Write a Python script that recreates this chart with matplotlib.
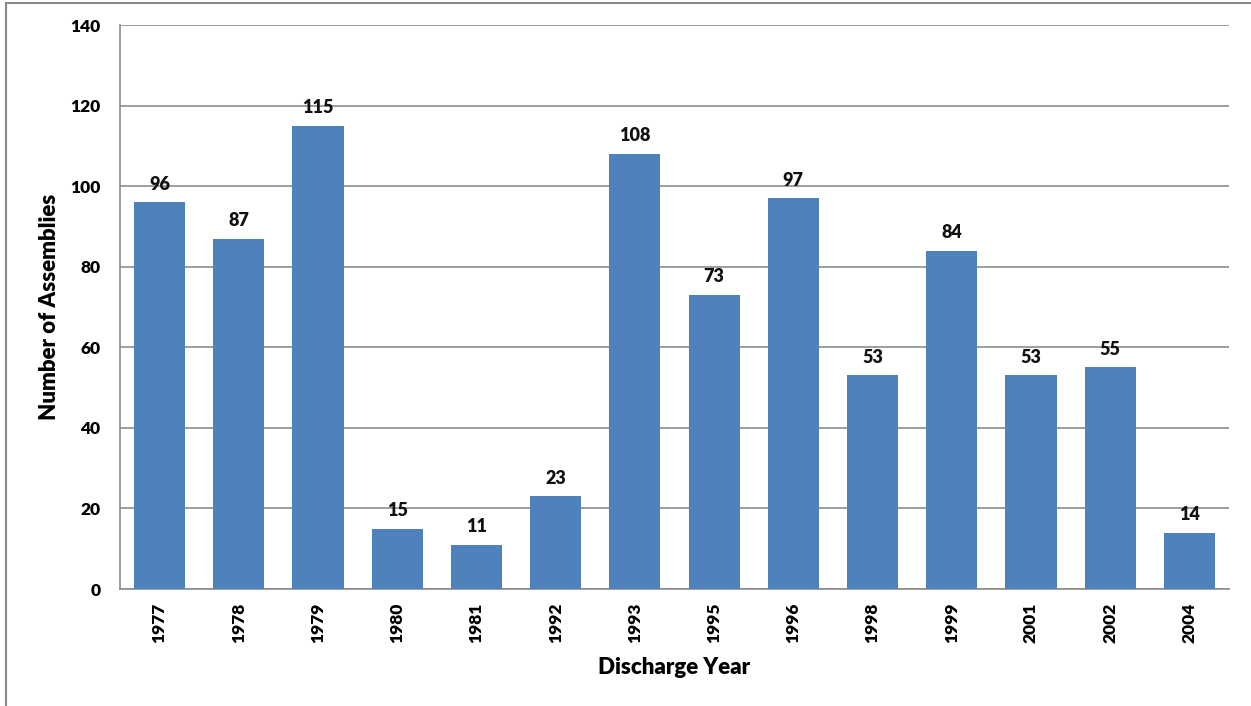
import matplotlib
matplotlib.use("Agg")
import matplotlib.pyplot as plt
from matplotlib.patches import Rectangle

years = ["1977", "1978", "1979", "1980", "1981", "1992", "1993", "1995",
         "1996", "1998", "1999", "2001", "2002", "2004"]
assemblies = [96, 87, 115, 15, 11, 23, 108, 73, 97, 53, 84, 53, 55, 14]
y_ticks = [0, 20, 40, 60, 80, 100, 120, 140]

plt.rcParams['font.family'] = ['Lato', 'DejaVu Sans']
W = 'heavy'

fig = plt.figure(figsize=(12.51, 7.06), dpi=100)
fig.patches.append(Rectangle((6/1251, -0.1), 1.2, 1 - 3/706 + 0.1, transform=fig.transFigure,
                             fill=False, edgecolor='#888888', linewidth=1.5))
ax = fig.add_axes([120/1251, 1 - 589/706, (1229 - 120)/1251, (589 - 25)/706])

x = list(range(len(years)))
bars = ax.bar(x, assemblies, width=0.645, color='#4f81bd', zorder=3)
for xi, v in zip(x, assemblies):
    ax.annotate(str(v), (xi, v), xytext=(0, 7), textcoords='offset points',
                ha='center', va='bottom', fontsize=13, fontweight=W, color='#111111')

ax.set_xlim(-0.5, len(years) - 0.5)
ax.set_ylim(0, 140)
ax.set_yticks(y_ticks)
ax.set_yticklabels([str(t) for t in y_ticks], fontsize=12.5, fontweight=W)
ax.set_xticks(x)
ax.set_xticklabels(years, rotation=90, fontsize=12.5, fontweight=W)
ax.tick_params(axis='both', length=0, pad=10)
ax.tick_params(axis='y', pad=14)
ax.grid(axis='y', color='#8c8c8c', linewidth=1.2, zorder=0)
for s in ['top', 'right']:
    ax.spines[s].set_visible(False)
for s in ['left', 'bottom']:
    ax.spines[s].set_color('#8c8c8c')
    ax.spines[s].set_linewidth(1.2)

ax.set_xlabel('Discharge Year', fontsize=16, fontweight=W, labelpad=10)
ax.set_ylabel('Number of Assemblies', fontsize=16, fontweight=W, labelpad=7)

fig.savefig('out.png', dpi=100)
